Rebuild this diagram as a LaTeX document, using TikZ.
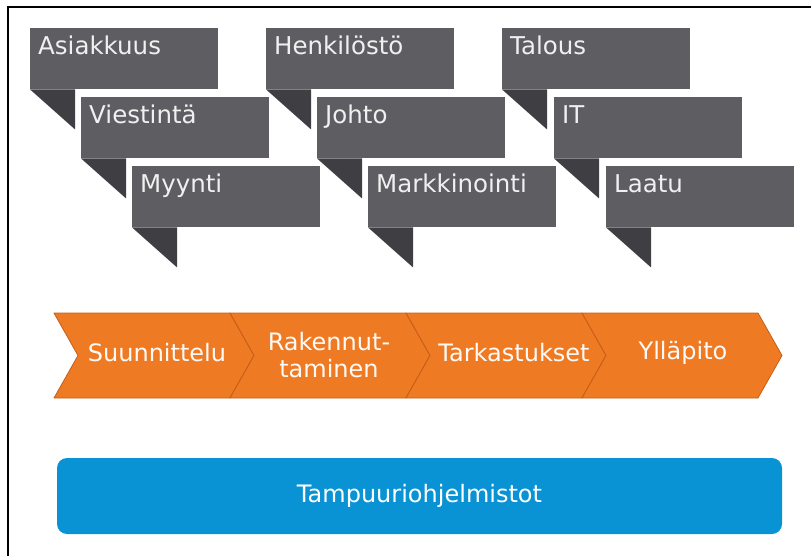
\documentclass[tikz,border=0pt]{standalone}
\usepackage{fontspec}
\setmainfont{DejaVu Sans}
\usepackage{xcolor}
\definecolor{boxgray}{HTML}{5E5D62}
\definecolor{tailgray}{HTML}{3F3E42}
\definecolor{chevorange}{HTML}{EE7A24}
\definecolor{chevedge}{HTML}{C45F18}
\definecolor{barblue}{HTML}{0A93D4}

\begin{document}
\begin{tikzpicture}
[x=1pt, y=-1pt,
every node/.style = {inner sep=0pt}]
\tikzstyle{area} = [rectangle, fill=boxgray, anchor=north west, text=white!94!black,
  font=\fontsize{24.5}{28}\selectfont, align=left, text width=172pt,
  inner xsep=8pt, inner ysep=8pt, text height=18pt, text depth=27pt]
\tikzstyle{tail} = [fill=tailgray]
\tikzstyle{chev} = [fill=chevorange, draw=chevedge, line width=0.8pt, line join=round]
\tikzstyle{phase} = [text=white!96!orange, font=\fontsize{24}{27}\selectfont, align=center]
\tikzstyle{bar} = [rectangle, rounded corners=10pt, fill=barblue, minimum width=725pt,
  minimum height=76pt, text=white, font=\fontsize{24}{28}\selectfont]

\useasboundingbox (0,0) rectangle (811,556);
\draw[line width=1.8pt] (8,556) -- (8,7) -- (811,7);

% first column
\node[area] (asiak) at (30,28) {Asiakkuus};
\fill[tail] (asiak.south west) -- ++(45,0) -- ++(0,40) -- cycle;
\node[area] (viest) at (81,97) {Viestintä};
\fill[tail] (viest.south west) -- ++(45,0) -- ++(0,40) -- cycle;
\node[area] (myyn) at (132,166) {Myynti};
\fill[tail] (myyn.south west) -- ++(45,0) -- ++(0,40) -- cycle;

% second column
\node[area] (henk) at (266,28) {Henkilöstö};
\fill[tail] (henk.south west) -- ++(45,0) -- ++(0,40) -- cycle;
\node[area] (johto) at (317,97) {Johto};
\fill[tail] (johto.south west) -- ++(45,0) -- ++(0,40) -- cycle;
\node[area] (mark) at (368,166) {Markkinointi};
\fill[tail] (mark.south west) -- ++(45,0) -- ++(0,40) -- cycle;

% third column
\node[area] (talous) at (502,28) {Talous};
\fill[tail] (talous.south west) -- ++(45,0) -- ++(0,40) -- cycle;
\node[area] (it) at (554,97) {IT};
\fill[tail] (it.south west) -- ++(45,0) -- ++(0,40) -- cycle;
\node[area] (laatu) at (606,166) {Laatu};
\fill[tail] (laatu.south west) -- ++(45,0) -- ++(0,40) -- cycle;

% phases
\draw[chev] (54,313) -- ++(176,0) -- ++(24,42.5) -- ++(-24,42.5) -- ++(-176,0) -- ++(24,-42.5) -- cycle;
\draw[chev] (230,313) -- ++(176,0) -- ++(24,42.5) -- ++(-24,42.5) -- ++(-176,0) -- ++(24,-42.5) -- cycle;
\draw[chev] (406,313) -- ++(176,0) -- ++(24,42.5) -- ++(-24,42.5) -- ++(-176,0) -- ++(24,-42.5) -- cycle;
\draw[chev] (582,313) -- ++(176,0) -- ++(24,42.5) -- ++(-24,42.5) -- ++(-176,0) -- ++(24,-42.5) -- cycle;
\node[phase] (suun) at (157,353) {Suunnittelu};
\node[phase] (rak) at (329,355) {Rakennut-\\taminen};
\node[phase] (tark) at (514,353) {Tarkastukset};
\node[phase] (yllap) at (683,353) {Ylläpito};

% base
\node[bar] (tamp) at (419.5,496) {Tampuuriohjelmistot};

\end{tikzpicture}
\end{document}
